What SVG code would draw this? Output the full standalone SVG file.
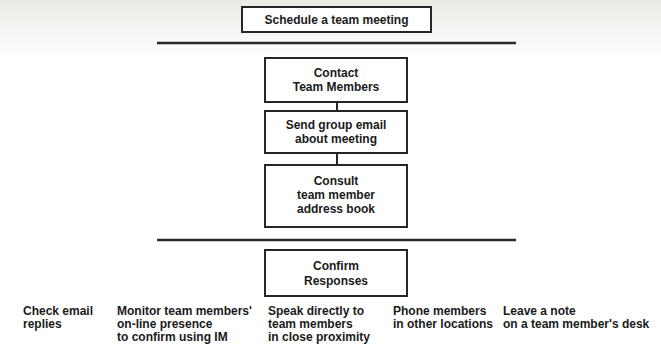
<svg xmlns="http://www.w3.org/2000/svg" width="661" height="353" viewBox="0 0 661 353">
<defs>
<linearGradient id="bg" x1="0" y1="0" x2="0" y2="1">
<stop offset="0" stop-color="#eceae5"/>
<stop offset="1" stop-color="#ffffff"/>
</linearGradient>
<style>
.box{fill:#ffffff;stroke:#262626;stroke-width:2}
.rule{stroke:#2a2a2a;stroke-width:2.5}
.conn{stroke:#262626;stroke-width:2;fill:none}
text{font-family:"Liberation Sans",Arial,sans-serif;font-weight:bold;font-size:12px;fill:#1a1a1a}
.c{text-anchor:middle}
</style>
</defs>
<rect x="0" y="0" width="661" height="353" fill="#ffffff"/>
<rect x="0" y="0" width="661" height="60" fill="url(#bg)"/>
<g id="schedule">
<rect class="box" x="242" y="7" width="189" height="25"/>
<text class="c" x="336.5" y="24">Schedule a team meeting</text>
</g>
<g id="rules">
<line class="rule" x1="157" y1="43" x2="516" y2="43"/>
<line class="rule" x1="157" y1="240" x2="516" y2="240"/>
</g>
<g id="connectors">
<line class="conn" x1="337" y1="102" x2="337" y2="111"/>
<line class="conn" x1="337" y1="153" x2="337" y2="165"/>
</g>
<g id="contact">
<rect class="box" x="265" y="58" width="142" height="44"/>
<text class="c" x="336" y="77">Contact</text>
<text class="c" x="336" y="91">Team Members</text>
</g>
<g id="send">
<rect class="box" x="265" y="111" width="142" height="42"/>
<text class="c" x="336" y="129">Send group email</text>
<text class="c" x="336" y="143">about meeting</text>
</g>
<g id="consult">
<rect class="box" x="265" y="165" width="142" height="62"/>
<text class="c" x="336" y="185">Consult</text>
<text class="c" x="336" y="199">team member</text>
<text class="c" x="336" y="213">address book</text>
</g>
<g id="confirm">
<rect class="box" x="265" y="250" width="142" height="46"/>
<text class="c" x="336" y="270">Confirm</text>
<text class="c" x="336" y="285">Responses</text>
</g>
<g id="check">
<text x="23" y="315">Check email</text>
<text x="23" y="328">replies</text>
</g>
<g id="monitor">
<text x="117" y="315">Monitor team members'</text>
<text x="117" y="328">on-line presence</text>
<text x="117" y="341">to confirm using IM</text>
</g>
<g id="speak">
<text x="268" y="315">Speak directly to</text>
<text x="268" y="328">team members</text>
<text x="268" y="341">in close proximity</text>
</g>
<g id="phone">
<text x="393" y="315">Phone members</text>
<text x="393" y="328">in other locations</text>
</g>
<g id="leave">
<text x="503" y="315">Leave a note</text>
<text x="503" y="328">on a team member's desk</text>
</g>
</svg>
